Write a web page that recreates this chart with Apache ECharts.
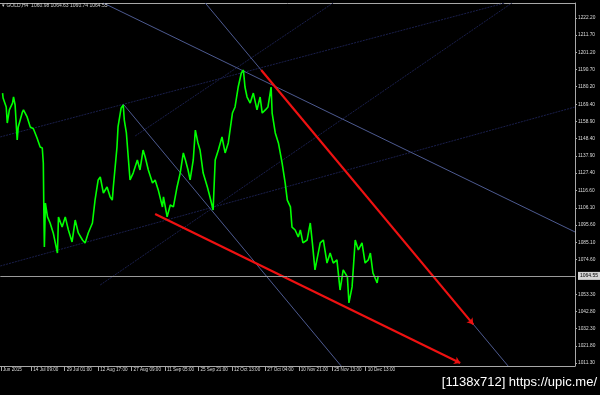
<!DOCTYPE html>
<html>
<head>
<meta charset="utf-8">
<script src="https://cdn.jsdelivr.net/npm/echarts@6/dist/echarts.min.js"></script>
<style>
html,body{margin:0;padding:0;background:#000;}
#c{width:600px;height:395px;}
</style>
</head>
<body>
<div id="c"></div>
<script>
// ---- data (H4 bar index, close price) ----
const bars = [
  9,10,16,18,22,28,30,33,37,39,
  47,49,56,62,68,75,81,85,87,88,
  89,91,95,100,106,114,116,123,129,135,
  142,148,154,162,167,173,181,186,192,196,
  202,209,215,219,221,228,230,236,240,242,
  246,250,253,259,267,272,278,282,288,296,
  301,307,315,317,324,330,336,343,349,355,
  359,364,368,374,378,383,387,393,401,406,
  412,416,422,429,435,441,449,454,460,466,
  470,473,477,483,489,496,502,506,512,517,
  523,525,531,537,544,550,554,560,563,569,
  575,579,584,592,598,602,607,617,623,630,
  636,642,649,655,661,669,672,678,684,690,
  697,703,709,713,718,726,728
];
const closes = [
  1176.3,1173.3,1167.8,1158.0,1166.0,1170.2,1173.9,1169.0,1147.6,1155.6,
  1164.7,1166.0,1161.7,1155.6,1154.5,1148.8,1143.3,1142.7,1133.6,1104.8,
  1082.2,1109.1,1100.6,1096.9,1090.8,1078.5,1100.6,1094.4,1100.6,1092.6,
  1085.3,1098.7,1090.8,1086.5,1084.7,1090.8,1096.9,1110.9,1123.2,1125.0,
  1115.2,1118.9,1112.8,1110.9,1118.9,1143.3,1155.6,1167.2,1169.0,1159.8,
  1151.9,1135.4,1123.2,1127.4,1135.4,1129.3,1141.5,1137.2,1129.3,1121.3,
  1123.2,1117.1,1106.7,1112.8,1100.6,1107.9,1106.7,1118.9,1127.4,1139.7,
  1135.4,1129.3,1123.2,1135.4,1153.7,1145.8,1141.5,1127.4,1118.9,1112.8,
  1104.8,1135.4,1141.5,1149.5,1139.7,1145.8,1164.1,1167.8,1180.0,1188.6,
  1190.4,1180.0,1173.9,1170.2,1176.3,1166.0,1173.9,1164.1,1166.0,1167.8,
  1180.0,1164.1,1151.9,1145.8,1133.6,1121.3,1110.9,1106.7,1094.4,1092.6,
  1088.3,1092.6,1084.7,1086.5,1096.9,1084.7,1068.2,1084.7,1086.5,1072.4,
  1078.5,1072.4,1074.3,1055.9,1068.2,1063.9,1048.0,1057.8,1086.5,1080.4,
  1084.7,1072.4,1074.3,1078.5,1066.3,1060.2,1064.6
];
const xTickBars = [6,64,128,192,256,320,384,448,512,576,640,704];
const xTickLabels = ["Jun 2015","14 Jul 09:00","29 Jul 01:00","12 Aug 17:00","27 Aug 09:00","11 Sep 05:00","25 Sep 21:00","12 Oct 13:00","27 Oct 04:00","10 Nov 21:00","25 Nov 13:00","10 Dec 13:00"];
const yTicks = [1222.20,1211.70,1201.20,1190.70,1180.20,1169.40,1158.90,1148.40,1137.90,1127.40,1116.60,1106.10,1095.60,1085.10,1074.60,1053.30,1042.80,1032.30,1021.80,1011.30];
const lastPrice = 1064.55;
const ohlc = [1060.98, 1064.63, 1060.74, 1064.55];
const symbolName = "GOLD,H4";
// trend lines [[bar, price],[bar, price]]
const blueLines = [
  [[201.7,1231.4],[1104.7,1091.4]],
  [[240.0,1169.6],[657.0,1009.5]],
  [[396.9,1231.4],[976.5,1009.5]]
];
const faintLines = [
  [[4.7,1149.5],[970.8,1231.4]],
  [[4.7,1070.6],[1104.7,1167.8]],
  [[262.9,1150.1],[641.7,1231.4]],
  [[196.0,1059.0],[984.1,1231.4]]
];
const redArrows = [
  [[504,1190.4],[910,1034.9]],
  [[301,1102.4],[885,1011.3]]
];
const xMin = 4.7, xMax = 1104.7, yMin = 1009.46, yMax = 1231.37;

const chart = echarts.init(document.getElementById('c'), null, {renderer:'canvas'});
const FONT = 'Liberation Sans';
const axisCol = '#a8a8a8';
const series = [];
faintLines.forEach(l => series.push({
  type:'line', data:l, symbol:'none', silent:true, clip:true,
  lineStyle:{color:'#1a1f4c', width:1, type:[2,1]}, z:1
}));
blueLines.forEach(l => series.push({
  type:'line', data:l, symbol:'none', silent:true, clip:true,
  lineStyle:{color:'#4d5a90', width:1}, z:2
}));
series.push({
  type:'line', data: bars.map((b,i)=>[b, closes[i]]), symbol:'none', clip:true,
  lineStyle:{color:'#00ff00', width:1.6}, z:3,
  markLine:{
    silent:true, symbol:['none','none'], animation:false,
    lineStyle:{color:'#9a9a9a', width:1, type:'solid'},
    label:{show:true, position:'end', formatter: lastPrice.toFixed(2), color:'#000',
      backgroundColor:'#d4d4d4', fontSize:5, fontFamily:FONT, padding:[2,2,1,2], distance:3},
    data:[{yAxis:lastPrice}]
  }
});
series.push({
  type:'lines', coordinateSystem:'cartesian2d', silent:true, z:4,
  symbol:['none','arrow'], symbolSize:6,
  lineStyle:{color:'#ee1111', width:2.2, opacity:1},
  data: redArrows.map(c => ({coords:c}))
});

chart.setOption({
  backgroundColor:'#000',
  animation:false,
  title:{
    text: '\u25BE ' + symbolName + '  ' + ohlc.map(v=>v.toFixed(2)).join(' '),
    left:2, top:3, padding:0,
    textStyle:{color:'#cfcfcf', fontSize:5, fontWeight:'normal', fontFamily:FONT}
  },
  grid:{left:0, right:25, top:3, bottom:29, containLabel:false},
  xAxis:[{
    type:'value', min:xMin, max:xMax, position:'bottom',
    axisLine:{show:true, lineStyle:{color:axisCol, width:1}},
    axisTick:{show:true, length:5, customValues:xTickBars, lineStyle:{color:axisCol}},
    axisLabel:{show:true, customValues:xTickBars, color:'#dcdcdc', fontSize:4.6, fontFamily:FONT,
      align:'left', verticalAlign:'top', margin:1, padding:[0,0,0,2],
      formatter:(v)=>{const i = xTickBars.indexOf(Math.round(v)); return i>=0 ? xTickLabels[i] : '';}},
    splitLine:{show:false}
  },{
    type:'value', min:xMin, max:xMax, position:'top',
    axisLine:{show:true, lineStyle:{color:axisCol, width:1}},
    axisTick:{show:false}, axisLabel:{show:false}, splitLine:{show:false}
  }],
  yAxis:{
    type:'value', min:yMin, max:yMax, position:'right',
    axisLine:{show:true, lineStyle:{color:axisCol, width:1}},
    axisTick:{show:true, length:2, customValues:yTicks, lineStyle:{color:axisCol}},
    axisLabel:{show:true, customValues:yTicks, color:'#dcdcdc', fontSize:4.8, fontFamily:FONT, margin:3,
      formatter:(v)=>Number(v).toFixed(2)},
    splitLine:{show:false}
  },
  graphic:[{
    type:'text', right:3, top:376,
    style:{text:'[1138x712] https://upic.me/', fill:'#ffffff', font:'13px "Liberation Sans"'}
  }],
  series: series
});
</script>
</body>
</html>
